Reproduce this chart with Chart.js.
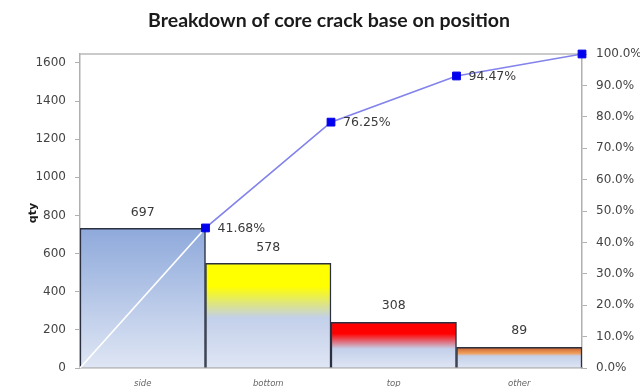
<!DOCTYPE html>
<html>
<head>
<meta charset="utf-8">
<script src="https://cdn.jsdelivr.net/npm/chart.js@4.4.1/dist/chart.umd.min.js"></script>
<style>
  html, body { margin: 0; padding: 0; background: #fff; }
  #wrap { width: 640px; height: 387px; position: relative; }
</style>
</head>
<body>
<div id="wrap"><canvas id="chart"></canvas></div>
<script>
// data
const categories = ['side', 'bottom', 'top', 'other'];
const countLabels = ['697', '578', '308', '89'];
const barHeights = [733, 549, 240, 109];          // drawn bar heights (left axis)
const cumulativeX = [0, 1, 2, 3, 4];
const cumulativePct = [0, 44.6, 78.3, 93.0, 100];  // drawn line points (right axis)
const pctLabels = [null, '41.68%', '76.25%', '94.47%', null];
const barTopColors = [null, '#ffff00', '#ff0000', '#d9692a'];
const leftMax = 1647;
const leftTicks = [0, 200, 400, 600, 800, 1000, 1200, 1400, 1600];
const rightTicks = [0, 10, 20, 30, 40, 50, 60, 70, 80, 90, 100];

const FONT = '"DejaVu Sans", sans-serif';
const TITLE_FONT = 'Lato, "Open Sans", sans-serif';
const LIGHT_TOP = '#c3d0ea';
const LIGHT_BOTTOM = '#dfe6f4';
const LINE_COLOR = '#8383ec';

function barFill(ctx) {
    const chart = ctx.chart;
    const i = ctx.dataIndex;
    if (!chart.chartArea || i === undefined) return LIGHT_BOTTOM;
    const ys = chart.scales.y;
    const top = ys.getPixelForValue(barHeights[i]);
    const base = ys.getPixelForValue(0);
    const g = chart.ctx.createLinearGradient(0, top, 0, base);
    const c = barTopColors[i];
    if (!c) {
        g.addColorStop(0, '#8ea9db');
        g.addColorStop(1, LIGHT_BOTTOM);
    } else if (i === 3) {
        g.addColorStop(0, '#c8602a');
        g.addColorStop(0.3, '#f0a060');
        g.addColorStop(0.42, LIGHT_TOP);
        g.addColorStop(1, LIGHT_BOTTOM);
    } else {
        g.addColorStop(0, c);
        g.addColorStop(i === 1 ? 0.22 : 0.25, c);
        g.addColorStop(i === 1 ? 0.52 : 0.58, LIGHT_TOP);
        g.addColorStop(1, LIGHT_BOTTOM);
    }
    return g;
}

const extras = {
    id: 'extras',
    beforeDatasetsDraw(chart) {
        const { ctx, chartArea } = chart;
        ctx.save();
        ctx.strokeStyle = '#b8b8b8';
        ctx.lineWidth = 1.5;
        ctx.beginPath();
        ctx.moveTo(chartArea.left, chartArea.top);
        ctx.lineTo(chartArea.right, chartArea.top);
        ctx.stroke();
        ctx.restore();
    },
    afterDatasetsDraw(chart) {
        const { ctx } = chart;
        ctx.save();
        ctx.fillStyle = '#3a3a3a';
        ctx.font = '12.5px ' + FONT;

        // counts above bars
        ctx.textAlign = 'center';
        ctx.textBaseline = 'middle';
        chart.getDatasetMeta(1).data.forEach((bar, i) => {
            ctx.fillText(countLabels[i], bar.x, bar.y - 16);
        });

        // percentages beside points
        ctx.textAlign = 'left';
        chart.getDatasetMeta(0).data.forEach((pt, i) => {
            if (pctLabels[i]) ctx.fillText(pctLabels[i], pt.x + 12, pt.y + 1);
        });

        // title
        ctx.fillStyle = '#1a1a1a';
        ctx.font = 'bold 19.5px ' + TITLE_FONT;
        ctx.textAlign = 'center';
        ctx.fillText('Breakdown of core crack base on position', 329, 21);

        // left axis title
        ctx.translate(33, 213);
        ctx.rotate(-Math.PI / 2);
        ctx.font = 'bold 11px ' + FONT;
        ctx.fillText('qty', 0, 0);
        ctx.restore();
    }
};

new Chart(document.getElementById('chart'), {
    data: {
        labels: categories,
        datasets: [
            {
                type: 'line',
                order: 0,
                xAxisID: 'x2',
                yAxisID: 'y1',
                clip: false,
                data: cumulativeX.map((x, i) => ({ x: x, y: cumulativePct[i] })),
                borderColor: LINE_COLOR,
                borderWidth: 1.7,
                segment: {
                    borderColor: c => c.p0DataIndex === 0 ? '#ffffff' : LINE_COLOR
                },
                pointStyle: 'rect',
                pointRadius: cumulativeX.map((x, i) => i === 0 ? 0 : 5.5),
                pointBackgroundColor: '#0000ee',
                pointBorderColor: '#0000ee',
                pointBorderWidth: 1,
                tension: 0
            },
            {
                type: 'bar',
                order: 1,
                xAxisID: 'x',
                yAxisID: 'y',
                data: barHeights,
                backgroundColor: barFill,
                borderColor: '#2a3040',
                borderWidth: 1.5,
                borderSkipped: 'bottom',
                grouped: false,
                barPercentage: 1,
                categoryPercentage: 1
            }
        ]
    },
    options: {
        responsive: true,
        maintainAspectRatio: false,
        animation: false,
        layout: { padding: { top: 54, left: 0, right: 0, bottom: 0 } },
        plugins: {
            legend: { display: false },
            title: { display: false },
            tooltip: { enabled: false }
        },
        scales: {
            x: {
                type: 'category',
                offset: true,
                grid: { display: false },
                border: { display: true, color: '#a8a8a8', width: 1.5 },
                ticks: {
                    color: '#666',
                    padding: 3,
                    font: { family: FONT, size: 8.5, style: 'italic' }
                },
                afterFit: s => { s.height = 19; }
            },
            x2: {
                type: 'linear',
                display: false,
                min: 0,
                max: 4
            },
            y: {
                position: 'left',
                min: 0,
                max: leftMax,
                afterBuildTicks: s => {
                    s.ticks = leftTicks.map(v => ({ value: v }));
                },
                ticks: {
                    color: '#444',
                    padding: 9,
                    font: { family: FONT, size: 12 },
                    callback: v => String(v)
                },
                grid: { drawOnChartArea: false, drawTicks: true, tickLength: 5, color: '#b0b0b0' },
                border: { display: true, color: '#b0b0b0', width: 1.5 },
                afterFit: s => { s.width = 80; }
            },
            y1: {
                position: 'right',
                min: 0,
                max: 100,
                afterBuildTicks: s => {
                    s.ticks = rightTicks.map(v => ({ value: v }));
                },
                ticks: {
                    color: '#444',
                    padding: 9,
                    font: { family: FONT, size: 12 },
                    callback: v => v.toFixed(1) + '%'
                },
                grid: { drawOnChartArea: false, drawTicks: true, tickLength: 5, color: '#b0b0b0' },
                border: { display: true, color: '#b0b0b0', width: 1.5 },
                afterFit: s => { s.width = 58; }
            }
        }
    },
    plugins: [extras]
});
</script>
</body>
</html>
